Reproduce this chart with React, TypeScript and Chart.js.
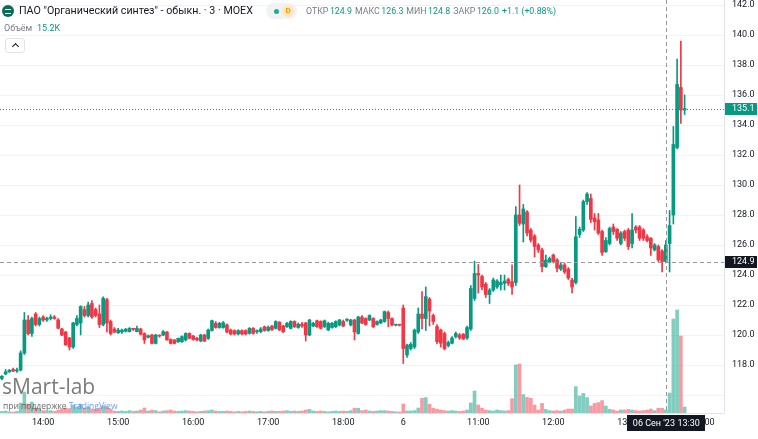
import React, { useEffect, useRef } from "react";
import { Chart, registerables } from "chart.js";

Chart.register(...registerables);

// ---------- data ----------
// candles: [open, high, low, close]
const day5Candles: number[][] = [
  [117.1, 117.3, 117.0, 117.25], [117.4, 117.7, 117.35, 117.55], [117.55, 117.7, 117.5, 117.65], [117.7, 117.8, 117.55, 117.6],
  [117.6, 117.8, 117.5, 117.67], [117.67, 118.95, 117.6, 118.8], [118.8, 121.5, 118.7, 121.0], [121.0, 121.3, 120.0, 120.1],
  [120.1, 121.2, 119.9, 121.1], [121.4, 121.5, 120.6, 120.7], [120.7, 121.2, 120.6, 121.1], [121.2, 121.3, 120.9, 121.0],
  [121.0, 121.2, 120.9, 121.1], [121.1, 121.35, 121.0, 121.2], [121.2, 121.3, 121.05, 121.1], [121.0, 121.1, 120.4, 120.45],
  [120.4, 120.45, 119.95, 120.0], [120.2, 120.25, 119.3, 119.35], [119.8, 119.85, 119.0, 119.2], [119.2, 120.85, 119.1, 120.8],
  [120.7, 121.3, 120.6, 121.1], [120.8, 121.95, 120.0, 121.9], [121.7, 121.9, 121.2, 121.3], [121.3, 122.2, 121.2, 122.0],
  [122.1, 122.3, 121.1, 121.2], [121.7, 121.8, 121.2, 121.3], [121.4, 122.0, 120.5, 120.7], [120.7, 122.55, 120.6, 122.45],
  [122.35, 122.45, 120.2, 120.8], [120.9, 121.0, 120.0, 120.1], [120.4, 120.5, 120.15, 120.2], [120.15, 120.45, 120.1, 120.33],
  [120.2, 120.4, 120.1, 120.33], [120.25, 120.45, 120.2, 120.38], [120.22, 120.5, 120.2, 120.44], [120.42, 120.45, 120.3, 120.38],
  [120.22, 120.6, 120.2, 120.44], [120.4, 120.45, 120.0, 120.05], [120.1, 120.15, 119.44, 119.67], [119.85, 120.0, 119.8, 119.95],
  [120.0, 120.05, 119.4, 119.44], [119.44, 120.05, 119.4, 120.0], [119.97, 120.0, 119.85, 119.93], [120.0, 120.3, 119.95, 120.22],
  [120.2, 120.25, 119.65, 119.67], [119.7, 119.75, 119.4, 119.44], [119.67, 119.7, 119.4, 119.44], [119.55, 119.8, 119.5, 119.78],
  [119.55, 119.95, 119.5, 119.89], [119.67, 120.15, 119.6, 120.1], [120.1, 120.15, 119.75, 119.78], [119.93, 119.98, 119.65, 119.7],
  [119.78, 119.85, 119.6, 119.67], [119.6, 120.05, 119.55, 120.0], [120.0, 120.05, 119.55, 119.6], [119.78, 120.4, 119.7, 120.33],
  [120.3, 121.0, 120.25, 120.96], [120.78, 120.9, 120.45, 120.5], [120.5, 120.85, 120.45, 120.78], [120.5, 120.9, 120.45, 120.82],
  [120.67, 120.75, 120.15, 120.2], [120.33, 120.4, 120.0, 120.07], [120.29, 120.35, 120.0, 120.07], [120.07, 120.35, 120.0, 120.29],
  [120.29, 120.35, 120.0, 120.07], [120.29, 120.35, 120.0, 120.07], [120.11, 120.5, 120.05, 120.44], [120.44, 120.5, 120.05, 120.11],
  [120.22, 120.35, 120.1, 120.26], [120.22, 120.5, 120.15, 120.4], [120.55, 120.6, 120.25, 120.3], [120.3, 120.6, 120.25, 120.52],
  [120.6, 120.65, 120.3, 120.35], [120.44, 120.95, 120.4, 120.9], [120.85, 120.9, 120.3, 120.33], [120.6, 120.65, 120.15, 120.22],
  [120.55, 120.85, 120.5, 120.78], [120.44, 120.95, 120.4, 120.9], [120.9, 120.95, 120.5, 120.55], [120.5, 120.8, 120.45, 120.72],
  [120.72, 120.85, 120.5, 120.6], [120.8, 120.85, 119.6, 120.0], [120.0, 121.05, 119.95, 121.0], [120.6, 120.85, 120.55, 120.78],
  [120.95, 121.0, 120.5, 120.55], [120.9, 120.95, 120.4, 120.44], [120.55, 121.0, 120.5, 120.95], [120.33, 120.85, 120.3, 120.78],
  [120.5, 120.85, 120.45, 120.78], [120.55, 120.95, 120.5, 120.9], [120.67, 121.05, 120.6, 121.0], [120.9, 121.0, 120.55, 120.6],
  [120.98, 121.1, 120.9, 121.03], [120.67, 121.05, 120.6, 121.0], [121.0, 121.05, 119.67, 120.2], [120.1, 121.25, 120.05, 121.2],
  [121.2, 121.3, 120.75, 120.8], [121.1, 121.15, 120.65, 120.7], [121.0, 121.35, 120.95, 121.3], [121.1, 121.15, 120.5, 120.55],
  [120.7, 120.95, 120.65, 120.9], [120.8, 121.05, 120.75, 121.0], [120.9, 121.6, 120.85, 121.56], [121.5, 121.6, 120.55, 121.1],
  [121.1, 121.15, 120.6, 120.67], [120.66, 120.7, 120.6, 120.69], [120.67, 120.72, 120.6, 120.65],
];

const day6Candles: number[][] = [
  [121.8, 122.0, 118.1, 119.1], [118.67, 119.4, 118.5, 119.33], [119.1, 119.5, 119.0, 119.38], [119.2, 120.4, 119.1, 120.33],
  [120.2, 121.8, 120.1, 121.4], [121.4, 122.9, 120.4, 121.1], [121.1, 123.2, 120.3, 122.56], [122.4, 122.5, 120.6, 121.6],
  [121.3, 121.4, 120.7, 120.9], [120.56, 120.7, 119.4, 119.56], [120.33, 120.4, 119.2, 119.45], [120.1, 120.2, 119.0, 119.1],
  [119.3, 119.6, 119.2, 119.5], [119.45, 119.9, 119.4, 119.8], [119.9, 120.2, 119.8, 120.1], [120.0, 120.1, 119.7, 119.8],
  [120.05, 120.1, 119.7, 119.73], [119.8, 120.6, 119.7, 120.5], [120.4, 123.3, 120.3, 123.1], [122.44, 124.93, 122.3, 124.1],
  [124.1, 124.7, 122.8, 124.0], [123.9, 124.0, 123.0, 123.2], [123.4, 123.5, 122.5, 122.7], [122.7, 123.1, 122.1, 123.0],
  [123.0, 123.8, 122.9, 123.67], [123.2, 123.7, 123.1, 123.6], [123.35, 124.0, 123.0, 123.5], [123.45, 124.0, 123.0, 123.6],
  [123.7, 123.8, 123.3, 123.45], [123.55, 124.67, 122.7, 123.2], [123.5, 128.56, 123.3, 128.0], [128.0, 130.0, 127.3, 127.45],
  [127.4, 128.7, 126.2, 128.4], [128.2, 128.3, 126.6, 126.8], [127.0, 127.1, 126.2, 126.33], [126.6, 126.7, 125.2, 125.9],
  [126.0, 126.1, 125.5, 125.67], [125.67, 125.8, 124.2, 124.56], [124.56, 125.33, 124.5, 125.0], [124.85, 125.2, 124.8, 125.1],
  [125.33, 125.4, 124.8, 124.9], [125.0, 125.1, 124.2, 124.45], [124.4, 124.8, 124.3, 124.67], [124.67, 124.8, 124.1, 124.2],
  [124.4, 124.5, 123.7, 123.8], [123.67, 123.8, 122.8, 123.2], [123.5, 127.9, 123.4, 126.55], [126.7, 127.2, 126.5, 127.05],
  [127.0, 129.0, 126.9, 128.9], [128.9, 129.5, 128.7, 129.4], [129.1, 129.4, 127.5, 127.7], [127.8, 128.1, 127.0, 127.55],
  [127.67, 128.1, 126.7, 126.8], [126.9, 127.0, 125.3, 125.5], [125.56, 126.5, 125.5, 126.3], [126.1, 127.2, 126.0, 127.1],
  [127.2, 127.4, 126.7, 126.9], [127.05, 127.1, 126.3, 126.45], [126.1, 126.9, 126.0, 126.8], [126.9, 127.0, 126.3, 126.45],
  [127.0, 127.1, 125.7, 125.9], [126.1, 128.1, 125.8, 127.0], [127.2, 127.3, 126.8, 127.0], [127.2, 127.3, 126.3, 126.45],
  [127.0, 127.1, 126.3, 126.45], [126.55, 126.7, 126.2, 126.3], [126.45, 126.5, 125.3, 125.8], [125.67, 126.1, 125.6, 126.0],
  [125.9, 126.0, 124.9, 125.0], [125.6, 125.7, 124.2, 124.9], [124.9, 126.3, 124.8, 126.0], [126.1, 128.3, 124.2, 127.3],
  [128.0, 133.9, 127.4, 132.7], [132.5, 138.4, 132.4, 136.7], [136.5, 139.6, 134.1, 135.0], [135.0, 136.0, 134.7, 135.1],
];

// volumes, thousands
const day5Volumes: number[] = [
  8, 10, 6, 5, 8, 50, 105, 45, 55, 25,
  20, 12, 10, 12, 8, 15, 20, 25, 22, 40,
  30, 45, 25, 30, 20, 18, 25, 35, 30, 20,
  10, 8, 10, 8, 12, 8, 10, 15, 25, 10,
  15, 12, 6, 10, 12, 15, 10, 8, 10, 12,
  10, 8, 6, 8, 10, 12, 15, 10, 8, 8,
  10, 8, 6, 8, 6, 8, 10, 8, 6, 8,
  6, 8, 10, 8, 8, 10, 12, 8, 10, 8,
  10, 15, 18, 10, 8, 10, 8, 6, 8, 10,
  8, 10, 8, 12, 24, 24, 12, 15, 10, 8,
  10, 12, 12, 10, 8, 6, 5,
];
const day6Volumes: number[] = [
  45, 10, 10, 12, 25, 74, 77, 44, 24, 19,
  15, 12, 10, 12, 10, 8, 10, 15, 50, 110,
  40, 24, 15, 12, 10, 15, 12, 10, 12, 72,
  240, 245, 92, 78, 74, 40, 15, 48, 18, 12,
  10, 12, 10, 15, 20, 20, 132, 85, 98, 77,
  35, 48, 52, 62, 35, 18, 15, 10, 15, 15,
  18, 15, 12, 10, 12, 15, 20, 12, 24, 24,
  15.2, 100, 470, 515, 385, 30,
];

const hourTicks = ["05 14:00", "05 15:00", "05 16:00", "05 17:00", "05 18:00", "06 10:00", "06 11:00", "06 12:00", "06 13:00", "06 14:00"];
const hourTickText = ["14:00", "15:00", "16:00", "17:00", "18:00", "6", "11:00", "12:00", "13:00", "14:00"];
const priceTickMin = 118;

const crossSlot = "06 13:30";
const crossPrice = 124.9;
const crossDateText = "06 Сен '23";
const crossTimeText = "13:30";

const legendLabels = ["ОТКР", "МАКС", "МИН", "ЗАКР"];
const legendValues = ["124.9", "126.3", "124.8", "126.0"];
const legendChange = "+1.1 (+0.88%)";

// ---------- helpers ----------
function makeSlots(day: string, from: string, to: string): string[] {
  const toMin = (s: string) => {
    const [h, m] = s.split(":").map(Number);
    return h * 60 + m;
  };
  const out: string[] = [];
  for (let t = toMin(from); t <= toMin(to); t += 3) {
    const h = Math.floor(t / 60);
    const m = t % 60;
    out.push(`${day} ${String(h).padStart(2, "0")}:${String(m).padStart(2, "0")}`);
  }
  return out;
}

const categories = [
  ...makeSlots("05", "13:27", "18:45"),
  ...makeSlots("06", "10:00", "13:45"),
  ...makeSlots("06", "13:48", "14:15"),
];

const UP = "#089981";
const DOWN = "#f23645";
const UP_VOL = "rgba(8,153,129,0.5)";
const DOWN_VOL = "rgba(242,54,69,0.5)";
const FONT = "Roboto, 'Open Sans', sans-serif";

const Y_MAX = 142 + 5 / 15;
const Y_MIN = Y_MAX - 413 / 15;
const VOL_MAX = (515 * 413) / 103;

export default function App() {
  const canvasRef = useRef<HTMLCanvasElement | null>(null);

  useEffect(() => {
    const candles = [...day5Candles, ...day6Candles];
    const volumes = [...day5Volumes, ...day6Volumes];
    const wicks = categories.map((_, i) => (candles[i] ? [candles[i][2], candles[i][1]] : null));
    const bodies = categories.map((_, i) => (candles[i] ? [candles[i][0], candles[i][3]] : null));
    const vols = categories.map((_, i) => (volumes[i] !== undefined ? volumes[i] : null));
    const colors = categories.map((_, i) => (candles[i] && candles[i][3] < candles[i][0] ? DOWN : UP));
    const volColors = categories.map((_, i) => (candles[i] && candles[i][3] < candles[i][0] ? DOWN_VOL : UP_VOL));
    const lastClose = candles[candles.length - 1][3];
    const crossIndex = categories.indexOf(crossSlot);

    const overlay = {
      id: "overlay",
      afterDatasetsDraw(chart: any) {
        const { ctx, chartArea, scales } = chart;
        const xs = scales.x;
        const ys = scales.y;
        ctx.save();
        ctx.lineWidth = 1;
        const yl = Math.round(ys.getPixelForValue(lastClose)) + 0.5;
        ctx.strokeStyle = UP;
        ctx.setLineDash([1, 2]);
        ctx.beginPath();
        ctx.moveTo(chartArea.left, yl);
        ctx.lineTo(chartArea.right, yl);
        ctx.stroke();
        const cy = Math.round(ys.getPixelForValue(crossPrice)) + 0.5;
        const cx = Math.round(xs.getPixelForValue(crossIndex)) + 0.5;
        ctx.strokeStyle = "#9598a1";
        ctx.setLineDash([4, 3]);
        ctx.beginPath();
        ctx.moveTo(chartArea.left, cy);
        ctx.lineTo(chartArea.right, cy);
        ctx.moveTo(cx, chartArea.top);
        ctx.lineTo(cx, chartArea.bottom);
        ctx.stroke();
        ctx.restore();
      },
      afterDraw(chart: any) {
        const { ctx, chartArea, scales, width } = chart;
        const xs = scales.x;
        const ys = scales.y;
        ctx.save();
        ctx.strokeStyle = "#e0e3eb";
        ctx.lineWidth = 1;
        ctx.beginPath();
        ctx.moveTo(chartArea.right + 0.5, 0);
        ctx.lineTo(chartArea.right + 0.5, chartArea.bottom);
        ctx.moveTo(0, chartArea.bottom + 0.5);
        ctx.lineTo(chartArea.right, chartArea.bottom + 0.5);
        ctx.stroke();

        const box = (yv: number, bg: string, text: string) => {
          const y = ys.getPixelForValue(yv);
          ctx.fillStyle = bg;
          ctx.fillRect(chartArea.right + 1, Math.round(y - 6), width - chartArea.right - 2, 12);
          ctx.fillStyle = "#ffffff";
          ctx.font = `9px ${FONT}`;
          ctx.textAlign = "left";
          ctx.textBaseline = "middle";
          ctx.fillText(text, chartArea.right + 8, y + 0.5);
        };
        box(lastClose, UP, lastClose.toFixed(1));
        box(crossPrice, "#131722", crossPrice.toFixed(1));

        const cx = xs.getPixelForValue(crossIndex);
        ctx.fillStyle = "#131722";
        ctx.fillRect(Math.round(cx - 38.5), chartArea.bottom + 2, 78, 16);
        ctx.fillStyle = "#ffffff";
        ctx.font = `9px ${FONT}`;
        ctx.textBaseline = "middle";
        ctx.textAlign = "left";
        ctx.fillText(crossDateText, cx - 33, chartArea.bottom + 10.5);
        ctx.textAlign = "right";
        ctx.fillText(crossTimeText, cx + 34, chartArea.bottom + 10.5);
        ctx.restore();
      },
    };

    const chart = new Chart(canvasRef.current as HTMLCanvasElement, {
      type: "bar",
      data: {
        labels: categories,
        datasets: [
          {
            label: "volume",
            data: vols as any,
            yAxisID: "yv",
            backgroundColor: volColors,
            barThickness: 3,
            grouped: false,
            order: 3,
          } as any,
          {
            label: "wick",
            data: wicks as any,
            yAxisID: "y",
            backgroundColor: colors,
            barThickness: 1,
            grouped: false,
            order: 2,
          } as any,
          {
            label: "body",
            data: bodies as any,
            yAxisID: "y",
            backgroundColor: colors,
            barThickness: 3,
            minBarLength: 1,
            grouped: false,
            order: 1,
          } as any,
        ],
      },
      options: {
        animation: false,
        responsive: false,
        devicePixelRatio: 1,
        events: [],
        layout: { padding: 0 },
        plugins: { legend: { display: false }, tooltip: { enabled: false } },
        scales: {
          x: {
            type: "category",
            offset: true,
            grid: { display: false, drawTicks: false },
            border: { display: false },
            ticks: {
              autoSkip: false,
              maxRotation: 0,
              minRotation: 0,
              padding: 4,
              color: "#131722",
              font: { size: 9, family: FONT },
              callback: (_v: any, index: number) => {
                const k = hourTicks.indexOf(categories[index]);
                return k >= 0 ? hourTickText[k] : null;
              },
            },
            afterFit: (s: any) => {
              s.height = 26;
              s.paddingLeft = 0;
              s.paddingRight = 0;
            },
          },
          y: {
            position: "right",
            min: Y_MIN,
            max: Y_MAX,
            grid: { color: "#f0f3fa", drawTicks: false },
            border: { display: false },
            ticks: {
              stepSize: 2,
              includeBounds: false,
              padding: 8,
              color: "#131722",
              font: { size: 9, family: FONT },
              callback: (v: any) => (Number(v) >= priceTickMin ? Number(v).toFixed(1) : ""),
            },
            afterFit: (s: any) => {
              s.width = 34;
              s.paddingTop = 0;
              s.paddingBottom = 0;
            },
          },
          yv: {
            display: false,
            min: 0,
            max: VOL_MAX,
          },
        },
      } as any,
      plugins: [overlay],
    });
    return () => chart.destroy();
  }, []);

  const gray = "#787b86";
  const teal = UP;

  return (
    <div style={{ position: "fixed", left: 0, top: 0, width: 758, height: 439, overflow: "hidden", background: "#ffffff", fontFamily: FONT }}>
      <canvas ref={canvasRef} width={758} height={439} style={{ position: "absolute", left: 0, top: 0, width: 758, height: 439 }} />
      {/* header */}
      <div style={{ position: "absolute", left: 2, top: 5, width: 12, height: 12, borderRadius: 6, background: "#0d6b55" }}>
        <div style={{ position: "absolute", left: 3, top: 4, width: 6, height: 3, borderTop: "1px solid #fff", borderBottom: "1px solid #fff" }} />
      </div>
      <div style={{ position: "absolute", left: 19, top: 3, fontSize: 10.7, lineHeight: "16px", color: "#131722", whiteSpace: "nowrap" }}>
        ПАО "Органический синтез" - обыкн. · 3 · MOEX
      </div>
      <div style={{ position: "absolute", left: 266, top: 3, width: 31, height: 16, borderRadius: 8, background: "#f0f2f5" }}>
        <div style={{ position: "absolute", left: 8, top: 6, width: 5, height: 5, borderRadius: 3, background: "#22ab94" }} />
        <div style={{ position: "absolute", left: 16, top: 2, width: 12, height: 12, borderRadius: 6, background: "#ffe7c2", color: "#ff9800", fontSize: 8, fontWeight: 700, lineHeight: "12px", textAlign: "center" }}>D</div>
      </div>
      <div style={{ position: "absolute", left: 306, top: 4, fontSize: 8.8, lineHeight: "14px", whiteSpace: "nowrap", display: "flex" }}>
        {legendLabels.map((l, i) => (
          <span key={i} style={{ marginRight: 3 }}>
            <span style={{ color: gray, marginRight: 1.5 }}>{l}</span>
            <span style={{ color: teal }}>{legendValues[i]}</span>
          </span>
        ))}
        <span style={{ color: teal }}>{legendChange}</span>
      </div>
      <div style={{ position: "absolute", left: 4, top: 21, fontSize: 9, lineHeight: "14px", color: gray }}>Объём</div>
      <div style={{ position: "absolute", left: 37, top: 21, fontSize: 9, lineHeight: "14px", color: teal }}>15.2K</div>
      <div style={{ position: "absolute", left: 5, top: 38, width: 18, height: 13, border: "1px solid #e0e3eb", borderRadius: 3, background: "#fff" }}>
        <div style={{ position: "absolute", left: 7, top: 5, width: 4, height: 4, borderLeft: "1.5px solid #131722", borderTop: "1.5px solid #131722", transform: "rotate(45deg)" }} />
      </div>
      {/* watermark */}
      <div style={{ position: "absolute", left: 2, top: 372, fontSize: 21, lineHeight: "28px", color: "rgba(90,90,90,0.8)", whiteSpace: "nowrap", fontFamily: "'Open Sans', sans-serif" }}>sMart-lab</div>
      <div style={{ position: "absolute", left: 3, top: 400, fontSize: 8.5, lineHeight: "11px", whiteSpace: "nowrap", fontFamily: "'Open Sans', sans-serif" }}>
        <span style={{ color: "rgba(80,80,80,0.85)" }}>при поддержке </span>
        <span style={{ color: "rgba(60,130,240,0.75)" }}>TradingView</span>
      </div>
    </div>
  );
}
